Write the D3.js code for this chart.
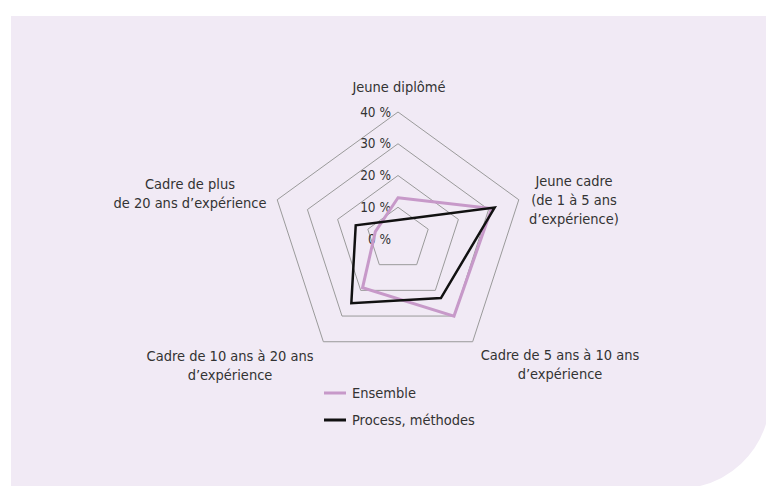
<!DOCTYPE html>
<html>
<head>
<meta charset="utf-8">
<script src="https://cdn.jsdelivr.net/npm/d3@7"></script>
<style>
  body { margin: 0; background: #fff; }
  svg text { font-family: "DejaVu Sans Condensed", "DejaVu Sans", sans-serif; fill: #333; }
</style>
</head>
<body>
<div id="chart"></div>
<script>
// categories (one label line per entry)
var categories = [
    ["Jeune diplômé"],
    ["Jeune cadre", "(de 1 à 5 ans", "d’expérience)"],
    ["Cadre de 5 ans à 10 ans", "d’expérience"],
    ["Cadre de 10 ans à 20 ans", "d’expérience"],
    ["Cadre de plus", "de 20 ans d’expérience"]
];
var ensemble = [13, 31, 30, 19, 7.5];
var process = [6, 32, 23, 25, 14];
var ticks = [0, 10, 20, 30, 40];
var seriesNames = ["Ensemble", "Process, méthodes"];

function init() {
    var w = 766, h = 486;
    var svg = d3.select("#chart").append("svg")
                .attr("width", w)
                .attr("height", h);

    // lavender panel with rounded bottom-right corner
    svg.append("path")
        .attr("d", "M11,16 H766 V424 A92 92 0 0 1 700,486 H11 Z")
        .attr("fill", "#f1eaf5");

    var cx = 398, cy = 239;
    var r = d3.scaleLinear().domain([0, 40]).range([0, 127]);
    var angle = function(i) { return i * 2 * Math.PI / categories.length; };

    var g = svg.append("g").attr("transform", "translate(" + cx + "," + cy + ")");

    var radial = d3.lineRadial()
        .angle(function(d, i) { return angle(i); })
        .radius(function(d) { return r(d); })
        .curve(d3.curveLinearClosed);

    // grid rings
    g.selectAll(".ring")
        .data(ticks.filter(function(t) { return t > 0; }))
        .enter()
        .append("path")
        .attr("d", function(t) { return radial(categories.map(function() { return t; })); })
        .attr("fill", "none")
        .attr("stroke", "#9a9a9a")
        .attr("stroke-width", 1);

    // tick labels
    g.selectAll(".tick")
        .data(ticks)
        .enter()
        .append("text")
        .attr("x", -7)
        .attr("y", function(t) { return -r(t); })
        .attr("dy", "0.35em")
        .attr("text-anchor", "end")
        .style("font-size", "13.5px")
        .text(function(t) { return t + " %"; });

    // series
    var series = [
        { name: seriesNames[0], values: ensemble, color: "#c799c9", width: 3 },
        { name: seriesNames[1], values: process, color: "#111", width: 2.5 }
    ];
    g.selectAll(".series")
        .data(series)
        .enter()
        .append("path")
        .attr("d", function(s) { return radial(s.values); })
        .attr("fill", "none")
        .attr("stroke", function(s) { return s.color; })
        .attr("stroke-width", function(s) { return s.width; })
        .attr("stroke-linejoin", "miter");

    // category labels
    var labelPos = [
        [399, 92], [574, 186], [560, 360], [230, 361], [190, 189]
    ];
    categories.forEach(function(lines, i) {
        var t = svg.append("text")
            .attr("text-anchor", "middle")
            .style("font-size", "14.5px");
        lines.forEach(function(line, j) {
            t.append("tspan")
                .attr("x", labelPos[i][0])
                .attr("y", labelPos[i][1] + j * 19)
                .text(line);
        });
    });

    // legend
    var legend = svg.selectAll(".legend")
        .data(series)
        .enter()
        .append("g")
        .attr("transform", function(d, i) { return "translate(324," + (393 + i * 27) + ")"; });
    legend.append("line")
        .attr("x1", 0).attr("x2", 22)
        .attr("stroke", function(d) { return d.color; })
        .attr("stroke-width", 3);
    legend.append("text")
        .attr("x", 28)
        .attr("dy", "0.35em")
        .style("font-size", "14.5px")
        .text(function(d) { return d.name; });
}

window.onload = init;
</script>
</body>
</html>
